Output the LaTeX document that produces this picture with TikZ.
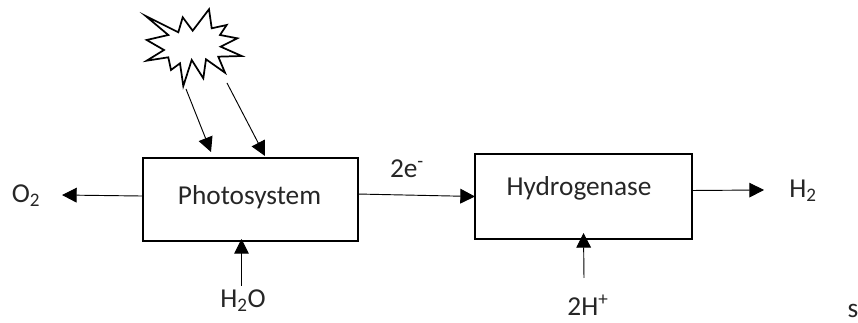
\documentclass[tikz,border=0pt]{standalone}
\usepackage{fontspec}
\setmainfont{Carlito}
\usetikzlibrary{arrows.meta,positioning}

\begin{document}
\begin{tikzpicture}[x=0.75pt,y=-0.75pt,
  block node/.style={rectangle,draw,line width=1.2pt,outer sep=0pt,inner sep=0pt},
  text node/.style={font=\fontsize{20.5pt}{24pt}\selectfont,inner sep=0pt,text=black!85},
  flow/.style={-{Triangle[length=11pt,width=11pt]},line width=0.7pt}]

  \useasboundingbox (0,0) rectangle (858,323);

  \draw[line width=1.3pt,fill=white,line join=miter] plot coordinates {
    (145.7,16) (178.3,32.3) (182.7,17.3) (192.7,30.7) (209,9.3) (211.7,28.3)
    (226.7,25) (220,35) (237.3,38.3) (220.7,46.7) (241.7,56) (218.3,56.7)
    (225,72.7) (206,59.3) (203.3,78.3) (191.7,60) (183.3,86) (180,63.3)
    (171,70) (168.3,57.3) (146.7,60.7) (164,50) (146.7,40) (168.3,35) } -- cycle;

  \node[block node,minimum width=161.25pt,minimum height=62.25pt] (photo) at (250.5,199.5) {};
  \node[block node,minimum width=162.75pt,minimum height=63.75pt] (hydro) at (583.5,196.5) {};

  \node[text node] (photolabel) at (249.5,197) {Photosystem};
  \node[text node] (hydrolabel) at (579,188) {Hydrogenase};

  \node[text node] (o2) at (26,196) {O\textsubscript{2}};
  \node[text node] (h2o) at (243,301) {H\textsubscript{2}O};
  \node[text node] (electrons) at (407,169) {2e\textsuperscript{-}};
  \node[text node] (h2) at (803,191) {H\textsubscript{2}};
  \node[text node] (protons) at (588,305) {2H\textsuperscript{+}};
  \node[text node] (stray) at (853,311) {s};

  \coordinate (rayastart) at (186,89);
  \coordinate (rayaend) at (211,152);
  \coordinate (raybstart) at (227,83);
  \coordinate (raybend) at (265,156);
  \coordinate (o2end) at (62,195);
  \coordinate (h2end) at (764,190);
  \coordinate (h2ostart) at (241.5,286);
  \coordinate (protonstart) at (584,278);

  \draw[flow] (rayastart) -- (rayaend);
  \draw[flow] (raybstart) -- (raybend);
  \draw[flow] ([yshift=2.6pt]photo.west) -- (o2end);
  \draw[flow] ([yshift=4.1pt]photo.east) -- (hydro.west);
  \draw[flow] ([yshift=4.5pt]hydro.east) -- (h2end);
  \draw[flow] (h2ostart) -- ([xshift=-6.75pt,yshift=1.5pt]photo.south);
  \draw[flow] (protonstart) -- ([yshift=4.5pt]hydro.south);

\end{tikzpicture}
\end{document}
